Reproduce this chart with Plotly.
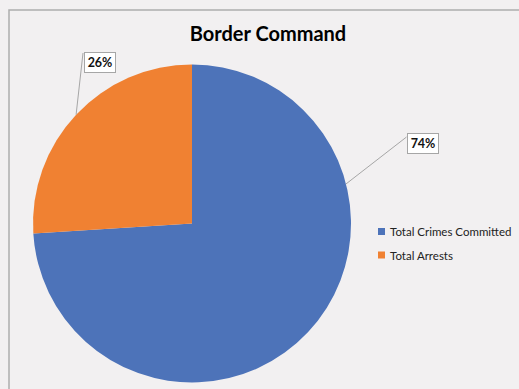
import math
import plotly.graph_objects as go

# Chart data
categories = ["Total Crimes Committed", "Total Arrests"]
values = [74, 26]
colors = ["#4D73B9", "#F08132"]
title_text = "Border Command"

W, H = 519, 389
FONT = "Lato, 'Open Sans', sans-serif"

# Pie geometry in pixels
cx, cy, R = 192, 223.5, 159

def px_x(x):
    return x / W

def px_y(y):
    return 1 - y / H

fig = go.Figure()
fig.add_trace(go.Pie(
    labels=categories,
    values=values,
    sort=False,
    direction="clockwise",
    rotation=0,
    marker=dict(colors=colors, line=dict(width=0)),
    textinfo="none",
    hoverinfo="label+percent",
    showlegend=False,
    domain=dict(x=[px_x(cx - R), px_x(cx + R)],
                y=[px_y(cy + R), px_y(cy - R)]),
))

shapes = []
annotations = []

# Outer chart-area border
shapes.append(dict(type="rect", xref="paper", yref="paper",
                   x0=px_x(9), x1=px_x(W + 20), y0=px_y(H + 20), y1=px_y(10),
                   line=dict(color="#ADADAD", width=1.5), fillcolor="rgba(0,0,0,0)",
                   layer="below"))

# Percent labels with leader lines
total = sum(values)
pcts = [round(v / total * 100) for v in values]
# fraction of the circle (clockwise from top) where each leader line touches the pie
cum = 0
mids = []
for v in values:
    mids.append((cum + v / 2) / total)
    cum += v
anchor_frac = [0.21, mids[1]]
label_boxes = [(422.5, 143.0), (99.5, 63.0)]
line_ends = [(406.5, 137.0), (83.0, 53.0)]

for i, p in enumerate(pcts):
    ang = 2 * math.pi * anchor_frac[i]
    ax = cx + R * math.sin(ang)
    ay = cy - R * math.cos(ang)
    ex, ey = line_ends[i]
    shapes.append(dict(type="line", xref="paper", yref="paper",
                       x0=px_x(ax), y0=px_y(ay), x1=px_x(ex), y1=px_y(ey),
                       line=dict(color="#A6A6A6", width=1)))
    bx, by = label_boxes[i]
    annotations.append(dict(
        x=px_x(bx), y=px_y(by), xref="paper", yref="paper",
        text=f"<b>{p}%</b>", showarrow=False,
        font=dict(family=FONT, size=12.5, color="#111111"),
        bgcolor="#FFFFFF", bordercolor="#A6A6A6", borderwidth=1,
        borderpad=0, width=30, height=19, xanchor="center", yanchor="middle",
    ))

# Legend entries
leg_y = [231.5, 255.0]
for i, name in enumerate(categories):
    y = leg_y[i]
    shapes.append(dict(type="rect", xref="paper", yref="paper",
                       x0=px_x(378), x1=px_x(385), y0=px_y(y + 3.5), y1=px_y(y - 3.5),
                       fillcolor=colors[i], line=dict(width=0)))
    annotations.append(dict(
        x=px_x(387.5), y=px_y(y), xref="paper", yref="paper",
        text=name, showarrow=False, xanchor="left", yanchor="middle",
        font=dict(family=FONT, size=11.5, color="#222222"),
    ))

fig.update_layout(
    width=W, height=H,
    margin=dict(l=0, r=0, t=0, b=0),
    paper_bgcolor="#F2F0F1",
    plot_bgcolor="#F2F0F1",
    title=dict(text=f"<b>{title_text}</b>", x=268 / W, xanchor="center",
               y=px_y(34), yanchor="middle",
               font=dict(family=FONT, size=20, color="#000000")),
    shapes=shapes,
    annotations=annotations,
)

fig.write_html("out.html")
